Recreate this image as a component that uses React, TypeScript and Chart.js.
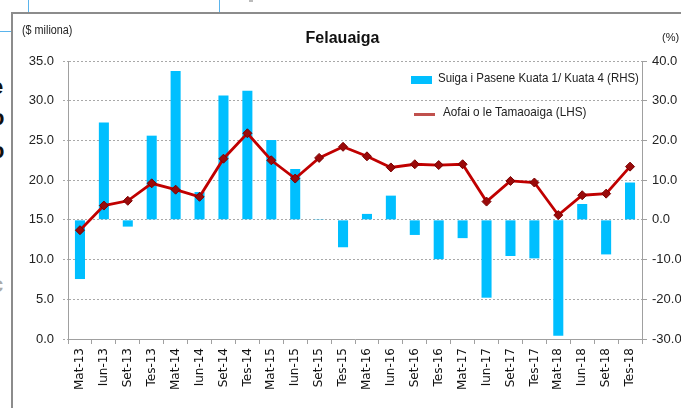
import React, { useEffect, useRef } from "react";
import { Chart, registerables } from "chart.js";

Chart.register(...registerables);

const categories = [
  "Mat-13", "Iun-13", "Set-13", "Tes-13",
  "Mat-14", "Iun-14", "Set-14", "Tes-14",
  "Mat-15", "Iun-15", "Set-15", "Tes-15",
  "Mat-16", "Iun-16", "Set-16", "Tes-16",
  "Mat-17", "Iun-17", "Set-17", "Tes-17",
  "Mat-18", "Iun-18", "Set-18", "Tes-18",
];

// Suiga i Pasene Kuata 1/ Kuata 4 (RHS), percent
const pctChange = [
  -14.9, 24.5, -1.7, 21.2,
  37.5, 7.0, 31.3, 32.5,
  20.1, 12.8, 0.2, -6.9,
  1.5, 6.1, -3.8, -9.9,
  -4.6, -19.6, -9.1, -9.7,
  -29.2, 4.0, -8.7, 9.4,
];

// Aofai o le Tamaoaiga (LHS), $ million
const totalValue = [
  13.7, 16.8, 17.4, 19.6,
  18.8, 17.9, 22.7, 25.9,
  22.5, 20.2, 22.8, 24.2,
  23.0, 21.6, 22.0, 21.9,
  22.0, 17.3, 19.9, 19.7,
  15.6, 18.1, 18.3, 21.7,
];

const titleText = "Felauaiga";
const leftUnit = "($ miliona)";
const rightUnit = "(%)";
const barLabel = "Suiga i Pasene Kuata 1/ Kuata 4 (RHS)";
const lineLabel = "Aofai o le Tamaoaiga (LHS)";

const W = 681;
const H = 408;

export default function App() {
  const ref = useRef<HTMLCanvasElement | null>(null);

  useEffect(() => {
    document.body.style.margin = "0";
    const canvas = ref.current;
    if (!canvas) return;
    const tickFont = { family: "'Liberation Sans', Arial, sans-serif", size: 13 };
    const chart = new Chart(canvas, {
      type: "bar",
      data: {
        labels: categories,
        datasets: [
          {
            type: "line",
            label: lineLabel,
            data: totalValue,
            yAxisID: "y",
            borderColor: "#C00000",
            borderWidth: 2.8,
            pointStyle: "rectRot",
            pointRadius: 4.5,
            pointBackgroundColor: "#9A0A0A",
            pointBorderColor: "#7A0000",
            pointBorderWidth: 1,
            tension: 0,
            order: 0,
          } as any,
          {
            type: "bar",
            label: barLabel,
            data: pctChange,
            yAxisID: "y1",
            backgroundColor: "#00BFFF",
            borderWidth: 0,
            categoryPercentage: 1,
            barPercentage: 0.42,
            order: 1,
          } as any,
        ],
      },
      options: {
        responsive: false,
        animation: false,
        layout: { padding: { top: 61, left: 0, right: 0, bottom: 0 } },
        plugins: {
          legend: { display: false },
          title: { display: false },
          tooltip: { enabled: false },
        },
        scales: {
          x: {
            type: "category",
            offset: true,
            grid: {
              display: true,
              offset: true,
              drawOnChartArea: false,
              drawTicks: true,
              tickLength: 5,
              color: "#A0A0A0",
            },
            border: { display: true, color: "#A0A0A0", width: 1 },
            ticks: {
              minRotation: 90,
              maxRotation: 90,
              autoSkip: false,
              padding: 4,
              color: "#111",
              font: { family: "'DejaVu Sans', Verdana, sans-serif", size: 12 },
            },
            afterFit: (s: any) => {
              s.height = 69;
            },
          },
          y: {
            type: "linear",
            position: "left",
            min: 0,
            max: 35,
            ticks: {
              stepSize: 5,
              padding: 9,
              color: "#222",
              font: tickFont,
              callback: (v: any) => Number(v).toFixed(1),
            },
            grid: {
              color: "#A8A8A8",
              lineWidth: 1,
              tickLength: 5,
              tickBorderDash: [2, 2],
            } as any,
            border: { display: true, color: "#A0A0A0", width: 1, dash: [2, 2] },
            afterFit: (s: any) => {
              s.width = 68;
            },
          },
          y1: {
            type: "linear",
            position: "right",
            min: -30,
            max: 40,
            ticks: {
              stepSize: 10,
              padding: 5,
              color: "#222",
              font: tickFont,
              callback: (v: any) => Number(v).toFixed(1),
            },
            grid: {
              drawOnChartArea: false,
              tickLength: 5,
              color: "#A0A0A0",
            },
            border: { display: true, color: "#A0A0A0", width: 1 },
            afterFit: (s: any) => {
              s.width = 39;
            },
          },
        },
      } as any,
    });
    return () => chart.destroy();
  }, []);

  const sans = "'Liberation Sans', Arial, sans-serif";
  const edgeLetter = (top: number, ch: string, color = "#111") => (
    <div
      style={{
        position: "absolute",
        left: -9,
        top,
        fontFamily: sans,
        fontWeight: "bold",
        fontSize: 22,
        lineHeight: "22px",
        color,
      }}
    >
      {ch}
    </div>
  );

  return (
    <div
      style={{
        position: "relative",
        width: W,
        height: H,
        overflow: "hidden",
        background: "#fff",
        fontFamily: sans,
      }}
    >
      {/* surrounding screenshot artifacts */}
      <div style={{ position: "absolute", left: 28, top: 0, width: 1, height: 12, background: "#5AB4EC" }} />
      <div style={{ position: "absolute", left: 219, top: 0, width: 1, height: 12, background: "#5AB4EC" }} />
      <div style={{ position: "absolute", left: 0, top: 31, width: 11, height: 1, background: "#5AB4EC" }} />
      <div style={{ position: "absolute", left: 249, top: 0, width: 4, height: 2, background: "#BBB" }} />
      {edgeLetter(76, "e")}
      {edgeLetter(107, "o")}
      {edgeLetter(140, "o")}
      {edgeLetter(274, "c", "#AAA")}
      <div
        style={{
          position: "absolute",
          left: 11,
          top: 12,
          width: W,
          height: H,
          borderTop: "2px solid #8C8C8C",
          borderLeft: "2px solid #8C8C8C",
          boxSizing: "border-box",
          background: "#fff",
        }}
      />
      <canvas
        ref={ref}
        width={W}
        height={H}
        style={{ position: "absolute", left: 0, top: 0, width: W, height: H }}
      />
      <div
        style={{
          position: "absolute",
          left: 0,
          width: W,
          top: 29,
          textAlign: "center",
          fontFamily: sans,
          fontWeight: "bold",
          fontSize: 16,
          color: "#111",
          paddingLeft: 2,
        }}
      >
        {titleText}
      </div>
      <div
        style={{
          position: "absolute",
          left: 22,
          top: 23,
          fontSize: 12,
          color: "#222",
          transform: "scaleX(0.9)",
          transformOrigin: "left top",
        }}
      >
        {leftUnit}
      </div>
      <div style={{ position: "absolute", left: 662, top: 31, fontSize: 11, color: "#222" }}>{rightUnit}</div>
      {/* legend */}
      <div style={{ position: "absolute", left: 411, top: 76, width: 21, height: 8, background: "#00BFFF" }} />
      <div
        style={{
          position: "absolute",
          left: 438,
          top: 70,
          fontSize: 13.5,
          color: "#222",
          whiteSpace: "nowrap",
          transform: "scaleX(0.85)",
          transformOrigin: "left top",
        }}
      >
        {barLabel}
      </div>
      <div style={{ position: "absolute", left: 414, top: 113, width: 21, height: 3, background: "#C0504D" }} />
      <div
        style={{
          position: "absolute",
          left: 443,
          top: 104,
          fontSize: 13.5,
          color: "#222",
          whiteSpace: "nowrap",
          transform: "scaleX(0.87)",
          transformOrigin: "left top",
        }}
      >
        {lineLabel}
      </div>
    </div>
  );
}
